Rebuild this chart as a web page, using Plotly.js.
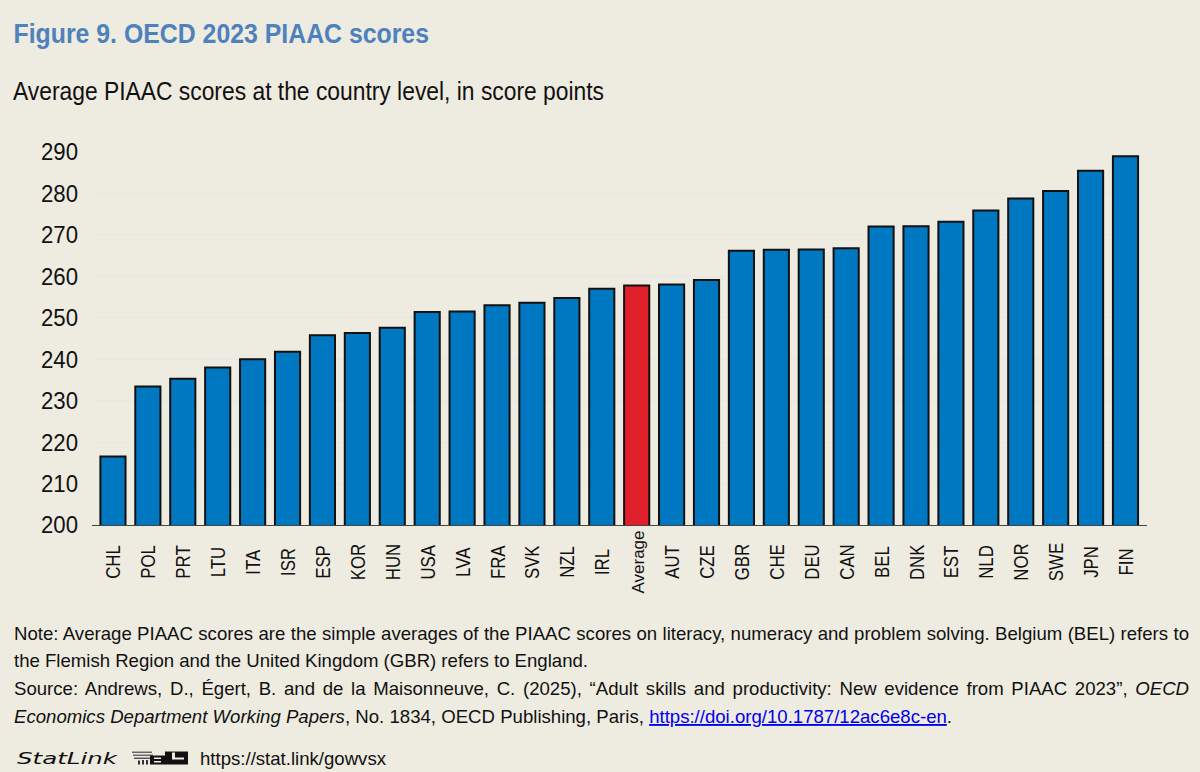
<!DOCTYPE html>
<html><head><meta charset="utf-8">
<script src="https://cdn.plot.ly/plotly-3.0.1.min.js"></script>
<style>html,body{margin:0;padding:0;background:#eeebe0}</style></head>
<body><div id="chart" style="width:1200px;height:772px"></div>
<script>
const countries = ["CHL","POL","PRT","LTU","ITA","ISR","ESP","KOR","HUN","USA","LVA","FRA","SVK","NZL","IRL","Average","AUT","CZE","GBR","CHE","DEU","CAN","BEL","DNK","EST","NLD","NOR","SWE","JPN","FIN"];
const scores = [216.5,233.4,235.3,238,240,241.8,245.8,246.3,247.6,251.4,251.5,253,253.6,254.8,257,257.8,258,259.1,266.2,266.4,266.5,266.8,272,272.1,273.2,275.9,278.8,280.6,285.5,289];
const blue = "#0078c1", red = "#e0202a", ink = "#111";
const barColors = countries.map(c => c === "Average" ? red : blue);
const font = "Liberation Sans, Arial, sans-serif";
const px = v => (v-92)/1055, py = v => (525.3-v)/373.3;
const lines = [
  {text:'Figure 9. OECD 2023 PIAAC scores',y:33,left:13.5,right:429,stretch:true,font:{family:font,size:28,weight:700,color:"#4f81bd"}},
  {text:'Average PIAAC scores at the country level, in score points',y:91,left:13,right:604,stretch:true,font:{family:font,size:25,color:ink}},
  {text:'Note: Average PIAAC scores are the simple averages of the PIAAC scores on literacy, numeracy and problem solving. Belgium (BEL) refers to',y:634,left:14,right:1189},
  {text:'the Flemish Region and the United Kingdom (GBR) refers to England.',y:661,left:14,right:588},
  {text:'Source: Andrews, D., Égert, B. and de la Maisonneuve, C. (2025), “Adult skills and productivity: New evidence from PIAAC 2023”, <i>OECD</i>',y:689,left:14,right:1189},
  {text:'<i>Economics Department Working Papers</i>, No. 1834, OECD Publishing, Paris, <a href="https://doi.org/10.1787/12ac6e8c-en" style="color:#0000ee"><span style="color:#0000ee"><u>https://doi.org/10.1787/12ac6e8c-en</u></span></a>.',y:717,left:14,right:952},
  {text:'StatLink',y:759,left:17,right:117,stretch:true,font:{family:"DejaVu Sans, sans-serif",size:15,style:"italic",color:ink}},
  {text:'https://stat.link/gowvsx',y:759,left:200,right:386}
];
const annotations = lines.map(l => ({xref:"paper",yref:"paper",xanchor:"left",yanchor:"middle",align:"left",showarrow:false,
  x:px(l.left),y:py(l.y),text:l.text,font:l.font||{family:font,size:18.6,color:ink}}));
const rect = (x0,x1,y0,y1,c) => ({type:"rect",xref:"paper",yref:"paper",x0:px(x0),x1:px(x1),y0:py(y0),y1:py(y1),fillcolor:c,line:{width:0}});
const logoShapes = [
  rect(132,152,752,753.5,"#666"),rect(133,153,755,756.5,"#666"),rect(134,154,758,759.5,"#555"),
  rect(138,140,761,765,"#333"),rect(142,144,760.5,765,"#333"),rect(146,148,760.5,765,"#333"),
  rect(150,165,756,765,ink),rect(154,161,758,759.5,"#eeebe0"),rect(154,161,761.5,763,"#eeebe0"),
  rect(165,188,752,765,ink),rect(172,175,753,759,"#eeebe0"),rect(172,184,758,760,"#eeebe0")
];
const layout = {
  width:1200,height:772,
  paper_bgcolor:"#eeebe0",plot_bgcolor:"#eeebe0",
  margin:{l:92,r:53,t:152,b:246.7,pad:0},
  showlegend:false,bargap:0.28,
  font:{family:font,color:ink},
  xaxis:{type:"category",categoryorder:"array",categoryarray:countries,tickmode:"array",tickvals:countries,ticktext:countries,
    range:[-0.6,29.616],tickangle:-90,tickfont:{size:20,color:ink},ticks:"",showgrid:false,
    showline:true,linecolor:"#444",linewidth:1,automargin:false},
  yaxis:{range:[200,290],tick0:200,dtick:10,tickfont:{size:24,color:ink},ticks:"",ticklen:0,showline:false,ticklabelstandoff:13,
    showgrid:true,gridcolor:"#e7e7ea",gridwidth:1,zeroline:false,automargin:false},
  annotations:annotations,
  shapes:logoShapes
};
function shift(el,dx,dy){ el.setAttribute("transform",`translate(${dx},${dy}) `+(el.getAttribute("transform")||"")); }
Plotly.newPlot("chart",[{type:"bar",x:countries,y:scores,marker:{color:barColors,line:{color:"#111",width:2}},hoverinfo:"x+y"}],layout,{displayModeBar:false,staticPlot:true}).then(gd=>{
  const root = gd.getBoundingClientRect();
  gd.querySelectorAll(".xtick text").forEach(el=>{
    const isAvg = el.textContent === "Average";
    if(isAvg) el.style.fontSize = "17px";
    el.setAttribute("lengthAdjust","spacingAndGlyphs");
    el.setAttribute("textLength",(el.getComputedTextLength()*(isAvg?1:0.84)).toFixed(1));
    const r = el.getBoundingClientRect();
    shift(el,1,562-(r.top+r.bottom)/2+root.top);
  });
  gd.querySelectorAll(".ytick text").forEach(el=>{
    el.setAttribute("lengthAdjust","spacingAndGlyphs");
    el.setAttribute("textLength",37);
  });
  gd.querySelectorAll(".annotation-text").forEach((el,i)=>{
    const l = lines[i], want = l.right-l.left, have = el.getComputedTextLength();
    if(l.stretch){ el.setAttribute("lengthAdjust","spacingAndGlyphs"); el.setAttribute("textLength",want); }
    else { const n = (el.textContent.match(/ /g)||[]).length; if(n) el.style.wordSpacing = ((want-have)/n).toFixed(3)+"px"; }
    const r = el.getBoundingClientRect();
    shift(el,l.left-(r.left-root.left),0);
  });
});
</script></body></html>
